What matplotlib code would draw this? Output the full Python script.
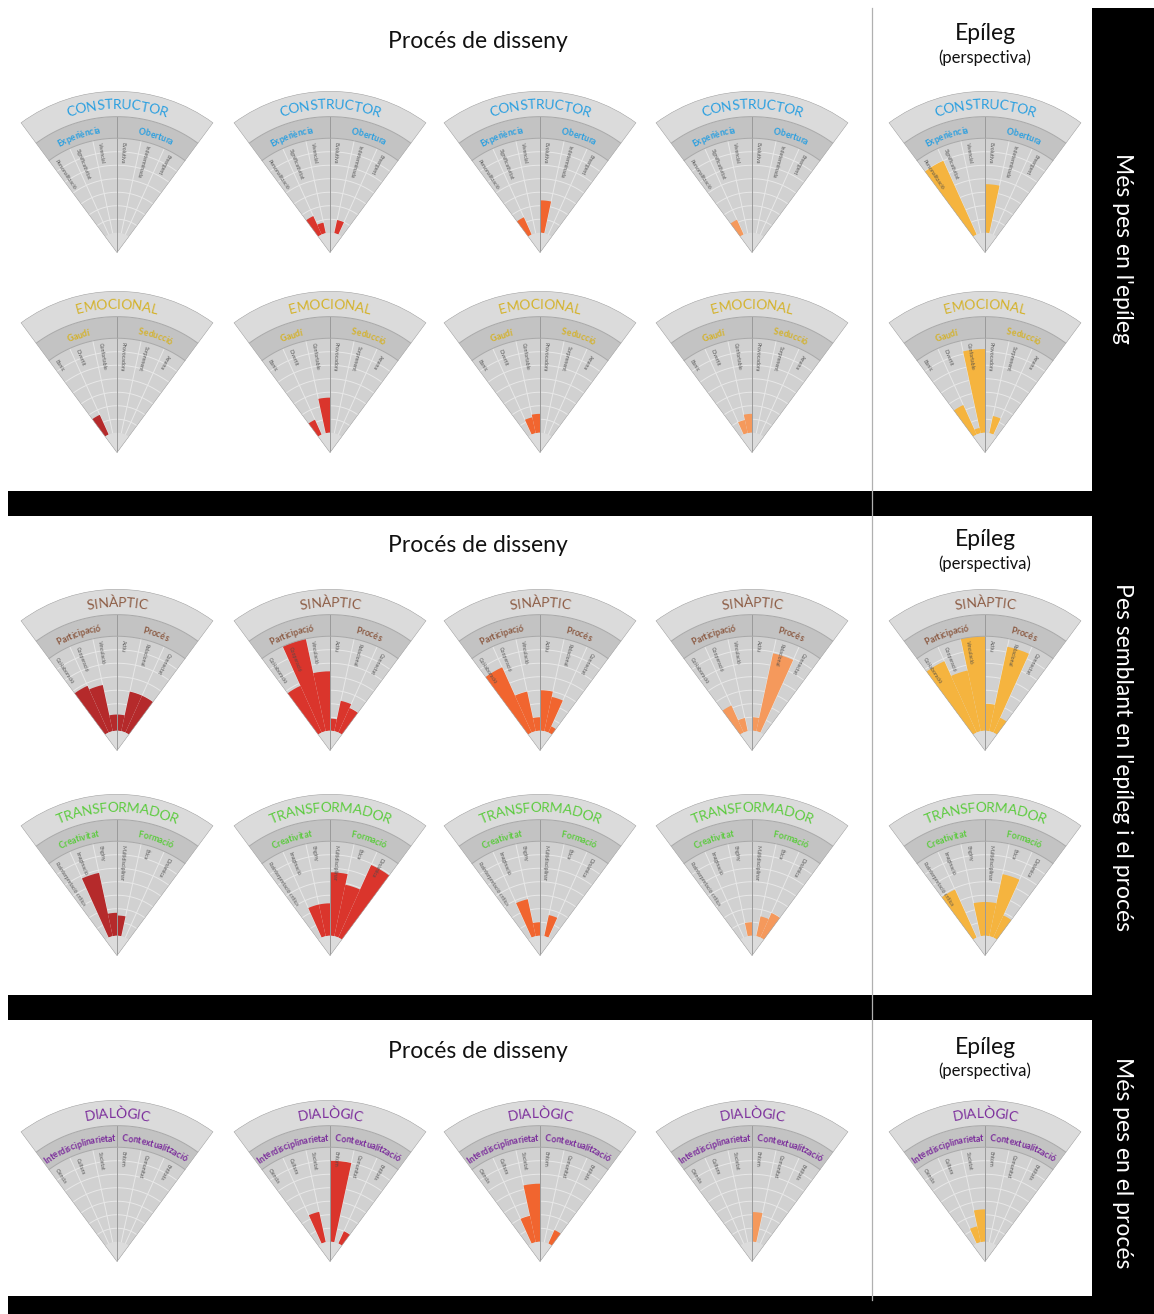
import numpy as np
import matplotlib
matplotlib.use("Agg")
import matplotlib.pyplot as plt
from matplotlib.patches import Rectangle
from matplotlib.textpath import TextToPath
from matplotlib.font_manager import FontProperties

W, H, DPI = 1154, 1314, 100
FONT = "Lato"

# ---------------- data ----------------
stages = ["Procés de disseny", "Epíleg", "(perspectiva)"]
row_notes = ["Més pes en l'epíleg", "Pes semblant en l'epíleg i el procés", "Més pes en el procés"]

dimensions = ["CONSTRUCTOR", "EMOCIONAL", "SINÀPTIC", "TRANSFORMADOR", "DIALÒGIC"]
dim_colors = ["#2a9fe0", "#d4b22a", "#8b5a42", "#5ccb3e", "#7a2b9b"]

subgroups_constructor = ["Experiència", "Obertura"]
subgroups_emocional = ["Gaudí", "Seducció"]
subgroups_sinaptic = ["Participació", "Procés"]
subgroups_transformador = ["Creativitat", "Formació"]
subgroups_dialogic = ["Interdisciplinarietat", "Contextualització"]

cats_constructor = ["Personalització", "Significativitat", "Vivencial", "Evolutiva", "Indeterminada", "Emergent"]
cats_emocional = ["Bonic", "Divertit", "Confortable", "Provocadora", "Sorprenent", "Amena"]
cats_sinaptic = ["Col·laboració", "Cooperació", "Vinculació", "Actiu", "Relacional", "Connectat"]
cats_transformador = ["Reinterpretació crítica", "Imaginació", "Enginy", "Multidisciplinar", "Ètica", "Dinàmica"]
cats_dialogic = ["Ciència", "Cultura", "Societat", "Entorn", "Comunitat", "Entitats"]

# one list per phase: four design-process moments + epilogue
vals_constructor = [
    [0, 0, 0, 0, 0, 0],
    [1.5, 0.8, 0, 0, 1.0, 0],
    [1.4, 0, 0, 2.4, 0, 0],
    [1.2, 0, 0, 0, 0, 0],
    [6.0, 0, 0, 3.6, 0, 0],
]
vals_emocional = [
    [1.6, 0, 0, 0, 0, 0],
    [1.2, 0, 2.6, 0, 0, 0],
    [0, 1.2, 1.4, 0, 0, 0],
    [0, 1.0, 1.4, 0, 0, 0],
    [2.4, 0.4, 6.2, 0, 1.3, 0],
]
vals_sinaptic = [
    [3.8, 3.5, 1.2, 1.2, 3.0, 3.0],
    [3.8, 7.0, 4.4, 0.9, 2.3, 2.0],
    [5.3, 3.0, 1.0, 3.0, 2.6, 0.5],
    [2.2, 1.0, 0, 1.0, 5.9, 0],
    [5.8, 4.6, 7.0, 2.0, 6.4, 1.2],
]
vals_transformador = [
    [0, 4.8, 1.7, 1.5, 0, 0],
    [0, 2.4, 2.4, 4.7, 3.9, 5.9],
    [0, 2.8, 1.0, 0, 1.6, 0],
    [0, 0, 1.0, 0, 1.5, 2.0],
    [3.9, 0, 2.5, 2.5, 4.7, 1.8],
]
vals_dialogic = [
    [0, 0, 0, 0, 0, 0],
    [0, 2.3, 0, 6.0, 0, 1.0],
    [0, 2.0, 4.3, 0, 0, 1.1],
    [0, 0, 0, 2.2, 0, 0],
    [0, 1.2, 2.4, 0, 0, 0],
]

phase_colors = ["#b52a2b", "#da352c", "#f1652f", "#f5995c", "#f5b43f"]

# ---------------- geometry ----------------
R_PX = 162.0
HALF = 36.5
NCAT = 6
STEP = 2 * HALF / NCAT
HUB, DATA_TOP, SUB_TOP, RMAX = 1.5, 8.5, 10.1, 12.0
fan_cx = [117, 330, 540, 752, 985]
apex_y = [253, 453, 751, 956, 1262]

fig = plt.figure(figsize=(W / DPI, H / DPI), dpi=DPI)
fig.patch.set_facecolor("white")
bg = fig.add_axes([0, 0, 1, 1])
bg.set_xlim(0, W)
bg.set_ylim(H, 0)
bg.axis("off")

# frame: black separators, right column, vertical divider
for y0, h in [(491, 25), (995, 25), (1296, 18)]:
    bg.add_patch(Rectangle((8, y0), W - 8, h, color="black", lw=0))
bg.add_patch(Rectangle((1092, 8), W - 1092, H - 8, color="black", lw=0))
bg.plot([872, 872], [8, 1300], color="#b0b0b0", lw=0.9)

for ty, ey in [(42, 34), (545, 540), (1052, 1047)]:
    bg.text(478, ty, stages[0], ha="center", va="center", fontsize=16.5, family=FONT, color="#111111")
    bg.text(985, ey, stages[1], ha="center", va="center", fontsize=16.5, family=FONT, color="#111111")
    bg.text(985, ey + 24, stages[2], ha="center", va="center", fontsize=12, family=FONT, color="#111111")

for yc, note in zip([248, 757, 1163], row_notes):
    bg.text(1123, yc, note, ha="center", va="center", rotation=-90, fontsize=16.5,
            family=FONT, color="white")

t2p = TextToPath()


def _width_px(s, fp):
    if not s:
        return 0.0
    return t2p.get_text_width_height_descent(s, fp, ismath=False)[0] * DPI / 72


def arc_text(ax, s, r, theta_c, size, color, weight="normal"):
    """Write s along the arc of radius r, centred on angle theta_c (degrees)."""
    fp = FontProperties(family=FONT, size=size, weight=weight)
    r_px = r / RMAX * R_PX
    total = _width_px(s, fp)
    start = np.deg2rad(theta_c) + (total / 2) / r_px
    for i, ch in enumerate(s):
        x0 = _width_px(s[:i], fp)
        x1 = _width_px(s[:i + 1], fp)
        a = start - ((x0 + x1) / 2) / r_px
        ax.text(a, r, ch, rotation=np.rad2deg(a) - 90, rotation_mode="anchor",
                ha="center", va="center_baseline", fontproperties=fp, color=color, zorder=8)


def draw_fan(cx, ay, title, tcolor, subs, cats, vals, bcolor):
    S = 2 * R_PX * np.sin(np.deg2rad(HALF))
    pad = (S - R_PX) / 2
    bottom_px = ay + pad
    ax = fig.add_axes([(cx - S / 2) / W, 1 - bottom_px / H, S / W, S / H], projection="polar")
    ax.set_thetamin(90 - HALF)
    ax.set_thetamax(90 + HALF)
    ax.set_rlim(0, RMAX)
    ax.axis("off")
    mid = np.pi / 2
    full = np.deg2rad(2 * HALF)
    ax.bar(mid, DATA_TOP, width=full, bottom=0, color="#d1d1d1", lw=0, zorder=1)
    ax.bar(mid, SUB_TOP - DATA_TOP, width=full, bottom=DATA_TOP, color="#c3c3c3", lw=0, zorder=1)
    ax.bar(mid, RMAX - SUB_TOP, width=full, bottom=SUB_TOP, color="#dbdbdb", lw=0, zorder=1)

    th = np.linspace(np.deg2rad(90 - HALF), np.deg2rad(90 + HALF), 100)
    for k in range(1, 7):
        ax.plot(th, np.full_like(th, HUB + k), color="#e8e8e8", lw=0.7, zorder=2)
    for j in range(1, NCAT):
        a = np.deg2rad(90 + HALF - STEP * j)
        if j == NCAT // 2:
            continue
        ax.plot([a, a], [HUB, DATA_TOP], color="#e8e8e8", lw=0.7, zorder=2)

    centers = np.deg2rad(90 + HALF - STEP * (np.arange(NCAT) + 0.5))
    ax.bar(centers, vals, width=np.deg2rad(STEP), bottom=HUB, color=bcolor, lw=0, zorder=3)
    ax.bar(mid, HUB, width=full, bottom=0, color="#dcdcdc", lw=0, zorder=4)

    for k, c in enumerate(cats):
        a = centers[k] + np.deg2rad(2.8)
        ax.text(a, DATA_TOP - 0.25, c, rotation=np.rad2deg(a) - 180, rotation_mode="anchor",
                ha="left", va="center", fontsize=3.8, family=FONT, color="#4a4a4a", alpha=0.9, zorder=5)

    ax.plot([mid, mid], [0, SUB_TOP], color="#9a9a9a", lw=0.7, zorder=6)
    for rr in (DATA_TOP, SUB_TOP):
        ax.plot(th, np.full_like(th, rr), color="#a8a8a8", lw=0.7, zorder=6)
    ax.bar(mid, RMAX, width=full, bottom=0, fill=False, edgecolor="#a9a9a9", lw=0.8, zorder=7)

    arc_text(ax, title, 11.05, 90, 10, tcolor)
    arc_text(ax, subs[0], 9.2, 90 + HALF / 2, 6.3, tcolor, "bold")
    arc_text(ax, subs[1], 9.2, 90 - HALF / 2, 6.3, tcolor, "bold")


dim_data = [
    (subgroups_constructor, cats_constructor, vals_constructor),
    (subgroups_emocional, cats_emocional, vals_emocional),
    (subgroups_sinaptic, cats_sinaptic, vals_sinaptic),
    (subgroups_transformador, cats_transformador, vals_transformador),
    (subgroups_dialogic, cats_dialogic, vals_dialogic),
]

for i, (name, tcol, (subs, cats, vals)) in enumerate(zip(dimensions, dim_colors, dim_data)):
    for p in range(5):
        draw_fan(fan_cx[p], apex_y[i], name, tcol, subs, cats, vals[p], phase_colors[p])

fig.savefig("out.png", dpi=DPI, facecolor="white")
